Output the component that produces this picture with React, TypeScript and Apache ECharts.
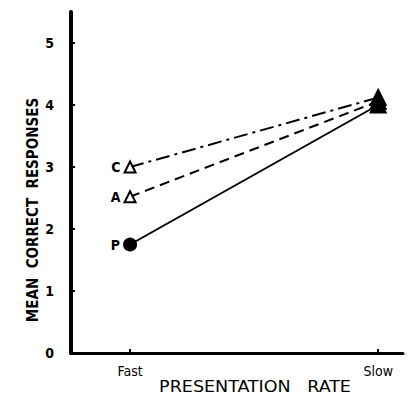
import React, { useEffect, useRef } from "react";
import * as echarts from "echarts";

const rates = ["Fast", "Slow"];
const yTicks = [0, 1, 2, 3, 4, 5];
const seriesNames = ["C", "A", "P"];
const valuesC = [3.0, 4.12];
const valuesA = [2.52, 4.06];
const valuesP = [1.75, 4.0];

export default function App() {
  const ref = useRef<HTMLDivElement>(null);
  useEffect(() => {
    const chart = echarts.init(ref.current!, null, { renderer: "svg" });
    const font = "'DejaVu Sans Condensed', 'DejaVu Sans', sans-serif";
    const mk = (
      name: string,
      vals: number[],
      lineType: any,
      symbol: string,
      filled: boolean
    ) => ({
      name,
      type: "line",
      data: vals.map((v, i) => ({
        value: [i, v],
        symbol: i === 0 ? symbol : "triangle",
        symbolSize: i === 0 ? (filled ? 12 : 11) : 15,
        itemStyle: {
          color: i === 0 && !filled ? "#fff" : "#000",
          borderColor: "#000",
          borderWidth: 2,
        },
        label: {
          show: i === 0,
          position: "left",
          distance: 3,
          formatter: name,
          color: "#000",
          fontFamily: font,
          fontWeight: "bold",
          fontSize: 14,
        },
      })),
      lineStyle: { color: "#000", width: 2, type: lineType },
      showSymbol: true,
      z: name === "P" ? 3 : 2,
    });
    chart.setOption({
      animation: false,
      backgroundColor: "#fff",
      grid: { left: 71, right: 11, top: 12, bottom: 49 },
      xAxis: {
        type: "value",
        min: -0.238,
        max: 1.1,
        splitLine: { show: false },
        axisLine: { show: true, lineStyle: { color: "#000", width: 3 } },
        axisTick: {
          show: true,
          inside: true,
          length: 4,
          customValues: [0, 1],
          lineStyle: { color: "#000", width: 2 },
        },
        axisLabel: {
          customValues: [0, 1],
          formatter: (v: number) => rates[Math.round(v)],
          color: "#000",
          fontFamily: font,
          fontSize: 14,
          margin: 11,
        },
      },
      yAxis: {
        type: "value",
        min: 0,
        max: 5.5,
        splitLine: { show: false },
        axisLine: { show: true, onZero: false, lineStyle: { color: "#000", width: 4 } },
        axisTick: {
          show: true,
          inside: true,
          length: 4,
          customValues: yTicks,
          lineStyle: { color: "#000", width: 2 },
        },
        axisLabel: {
          customValues: yTicks,
          color: "#000",
          fontFamily: font,
          fontSize: 14,
          fontWeight: "bold",
          margin: 17,
        },
      },
      graphic: [
        {
          type: "text",
          x: 33,
          y: 210,
          rotation: Math.PI / 2,
          style: {
            text: "MEAN  CORRECT  RESPONSES",
            fill: "#000",
            font: `bold 15px ${font}`,
            textAlign: "center",
            textVerticalAlign: "middle",
          },
        },
        {
          type: "text",
          x: 255,
          y: 387,
          style: {
            text: "PRESENTATION   RATE",
            fill: "#000",
            font: `15px ${font}`,
            textAlign: "center",
            textVerticalAlign: "middle",
          },
          scaleX: 1.3,
        },
      ],
      series: [
        mk(seriesNames[0], valuesC, [14, 5, 3, 5], "triangle", false),
        mk(seriesNames[1], valuesA, [10, 6], "triangle", false),
        mk(seriesNames[2], valuesP, "solid", "circle", true),
      ],
    });
    return () => chart.dispose();
  }, []);
  return (
    <div
      ref={ref}
      style={{ width: 414, height: 402, position: "absolute", left: 0, top: 0 }}
    />
  );
}
